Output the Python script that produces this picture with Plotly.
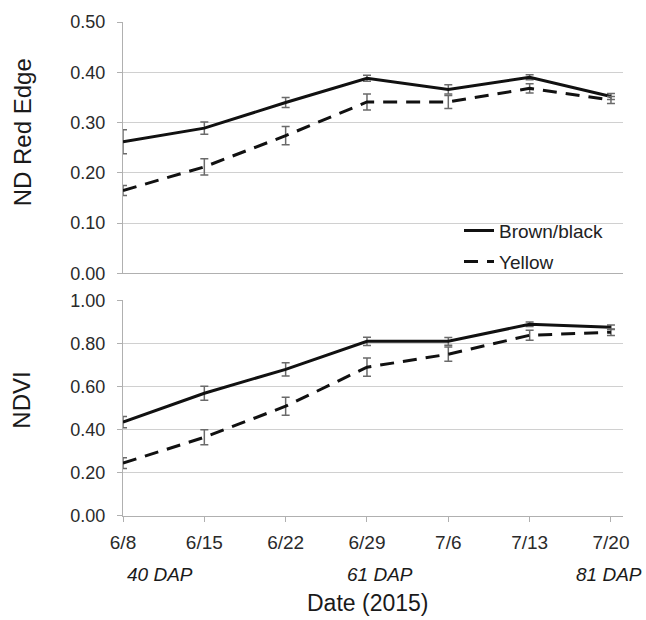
import plotly.graph_objects as go

# Sampling dates (2015) and growth-stage notes
dates = ["6/8", "6/15", "6/22", "6/29", "7/6", "7/13", "7/20"]
dap_labels = ["40 DAP", "61 DAP", "81 DAP"]

# ND Red Edge (mean and standard error)
ndre_brown = [0.262, 0.289, 0.340, 0.388, 0.366, 0.390, 0.352]
ndre_brown_se = [0.024, 0.012, 0.010, 0.006, 0.009, 0.005, 0.006]
ndre_yellow = [0.165, 0.212, 0.274, 0.341, 0.341, 0.368, 0.345]
ndre_yellow_se = [0.010, 0.016, 0.018, 0.016, 0.013, 0.009, 0.007]

# NDVI (mean and standard error)
ndvi_brown = [0.435, 0.569, 0.680, 0.810, 0.810, 0.889, 0.875]
ndvi_brown_se = [0.026, 0.032, 0.031, 0.019, 0.018, 0.010, 0.010]
ndvi_yellow = [0.245, 0.365, 0.509, 0.690, 0.750, 0.838, 0.852]
ndvi_yellow_se = [0.025, 0.035, 0.042, 0.042, 0.033, 0.023, 0.015]

FONT = "Liberation Sans, Arial, sans-serif"
LINE_COL = "#111111"
ERR_COL = "#6a6a6a"
GRID_COL = "#d0d0d0"
AXIS_COL = "#b0b0b0"
DASH = "14px,9px"


def series(x, y, se, name, dash, xa, ya, legend=None, show=False):
    return go.Scatter(
        x=x, y=y, name=name, mode="lines",
        line=dict(color=LINE_COL, width=3, dash=dash),
        error_y=dict(type="data", array=se, visible=True,
                     color=ERR_COL, thickness=1.5, width=4),
        xaxis=xa, yaxis=ya, showlegend=show,
        legend=legend if legend else "legend",
    )


fig = go.Figure()
fig.add_trace(series(dates, ndre_brown, ndre_brown_se, "Brown/black", "solid", "x", "y", "legend", True))
fig.add_trace(series(dates, ndre_yellow, ndre_yellow_se, "Yellow", DASH, "x", "y", "legend2", True))
fig.add_trace(series(dates, ndvi_brown, ndvi_brown_se, "Brown/black", "solid", "x2", "y2"))
fig.add_trace(series(dates, ndvi_yellow, ndvi_yellow_se, "Yellow", DASH, "x2", "y2"))

tickfont = dict(family=FONT, size=18, color="#2a2a2a")
xcommon = dict(type="category", range=[0, 6.148], showgrid=False, zeroline=False,
               showline=True, linecolor=AXIS_COL, linewidth=1)
ycommon = dict(showgrid=True, gridcolor=GRID_COL, gridwidth=1, zeroline=False,
               showline=True, linecolor=AXIS_COL, linewidth=1,
               ticks="outside", ticklen=5, tickcolor=AXIS_COL,
               tickfont=tickfont, tickformat=".2f", ticklabelstandoff=8)

top_lo = (516 - 272) / 497
bot_hi = (516 - 299) / 497

fig.update_layout(
    width=646, height=620,
    margin=dict(l=123, r=23, t=19, b=104),
    paper_bgcolor="white", plot_bgcolor="white",
    font=dict(family=FONT, color="#222222"),
    xaxis=dict(**xcommon, domain=[0, 1], anchor="y", showticklabels=False, ticks=""),
    yaxis=dict(**ycommon, domain=[top_lo, 1], range=[0, 0.5], dtick=0.1, anchor="x"),
    xaxis2=dict(**xcommon, domain=[0, 1], anchor="y2", showticklabels=True,
                ticks="outside", ticklen=5, tickcolor=AXIS_COL,
                tickfont=dict(family=FONT, size=19, color="#2a2a2a"),
                ticklabelstandoff=4),
    yaxis2=dict(**ycommon, domain=[0, bot_hi], range=[0, 1.0], dtick=0.2, anchor="x2"),
    legend=dict(x=(459 - 123) / 500, y=(516 - 229) / 497, xanchor="left", yanchor="middle",
                bgcolor="rgba(0,0,0,0)", font=dict(family=FONT, size=19, color="#222222")),
    legend2=dict(x=(459 - 123) / 500, y=(516 - 260) / 497, xanchor="left", yanchor="middle",
                 bgcolor="rgba(0,0,0,0)", font=dict(family=FONT, size=19, color="#222222")),
)

# Axis titles
fig.add_annotation(text="ND Red Edge", textangle=-90, xref="paper", yref="paper",
                   x=(22 - 123) / 500, y=(516 - 130) / 497, xanchor="center", yanchor="middle",
                   showarrow=False, font=dict(family=FONT, size=24, color="#1a1a1a"))
fig.add_annotation(text="NDVI", textangle=-90, xref="paper", yref="paper",
                   x=(22 - 123) / 500, y=(516 - 400) / 497, xanchor="center", yanchor="middle",
                   showarrow=False, font=dict(family=FONT, size=24, color="#1a1a1a"))
fig.add_annotation(text="Date (2015)", xref="paper", yref="paper",
                   x=(367 - 123) / 500, y=(516 - 604) / 497, xanchor="center", yanchor="middle",
                   showarrow=False, font=dict(family=FONT, size=23, color="#1a1a1a"))

# Days-after-planting notes under the date axis
dap_pos = [(125, "left"), (380, "center"), (644, "right")]
for label, (px, anchor) in zip(dap_labels, dap_pos):
    fig.add_annotation(text="<i>" + label + "</i>", xref="paper", yref="paper",
                       x=(px - 123) / 500, y=(516 - 575) / 497, xanchor=anchor, yanchor="middle",
                       showarrow=False, font=dict(family=FONT, size=19, color="#1a1a1a"))

fig.write_html("out.html")
